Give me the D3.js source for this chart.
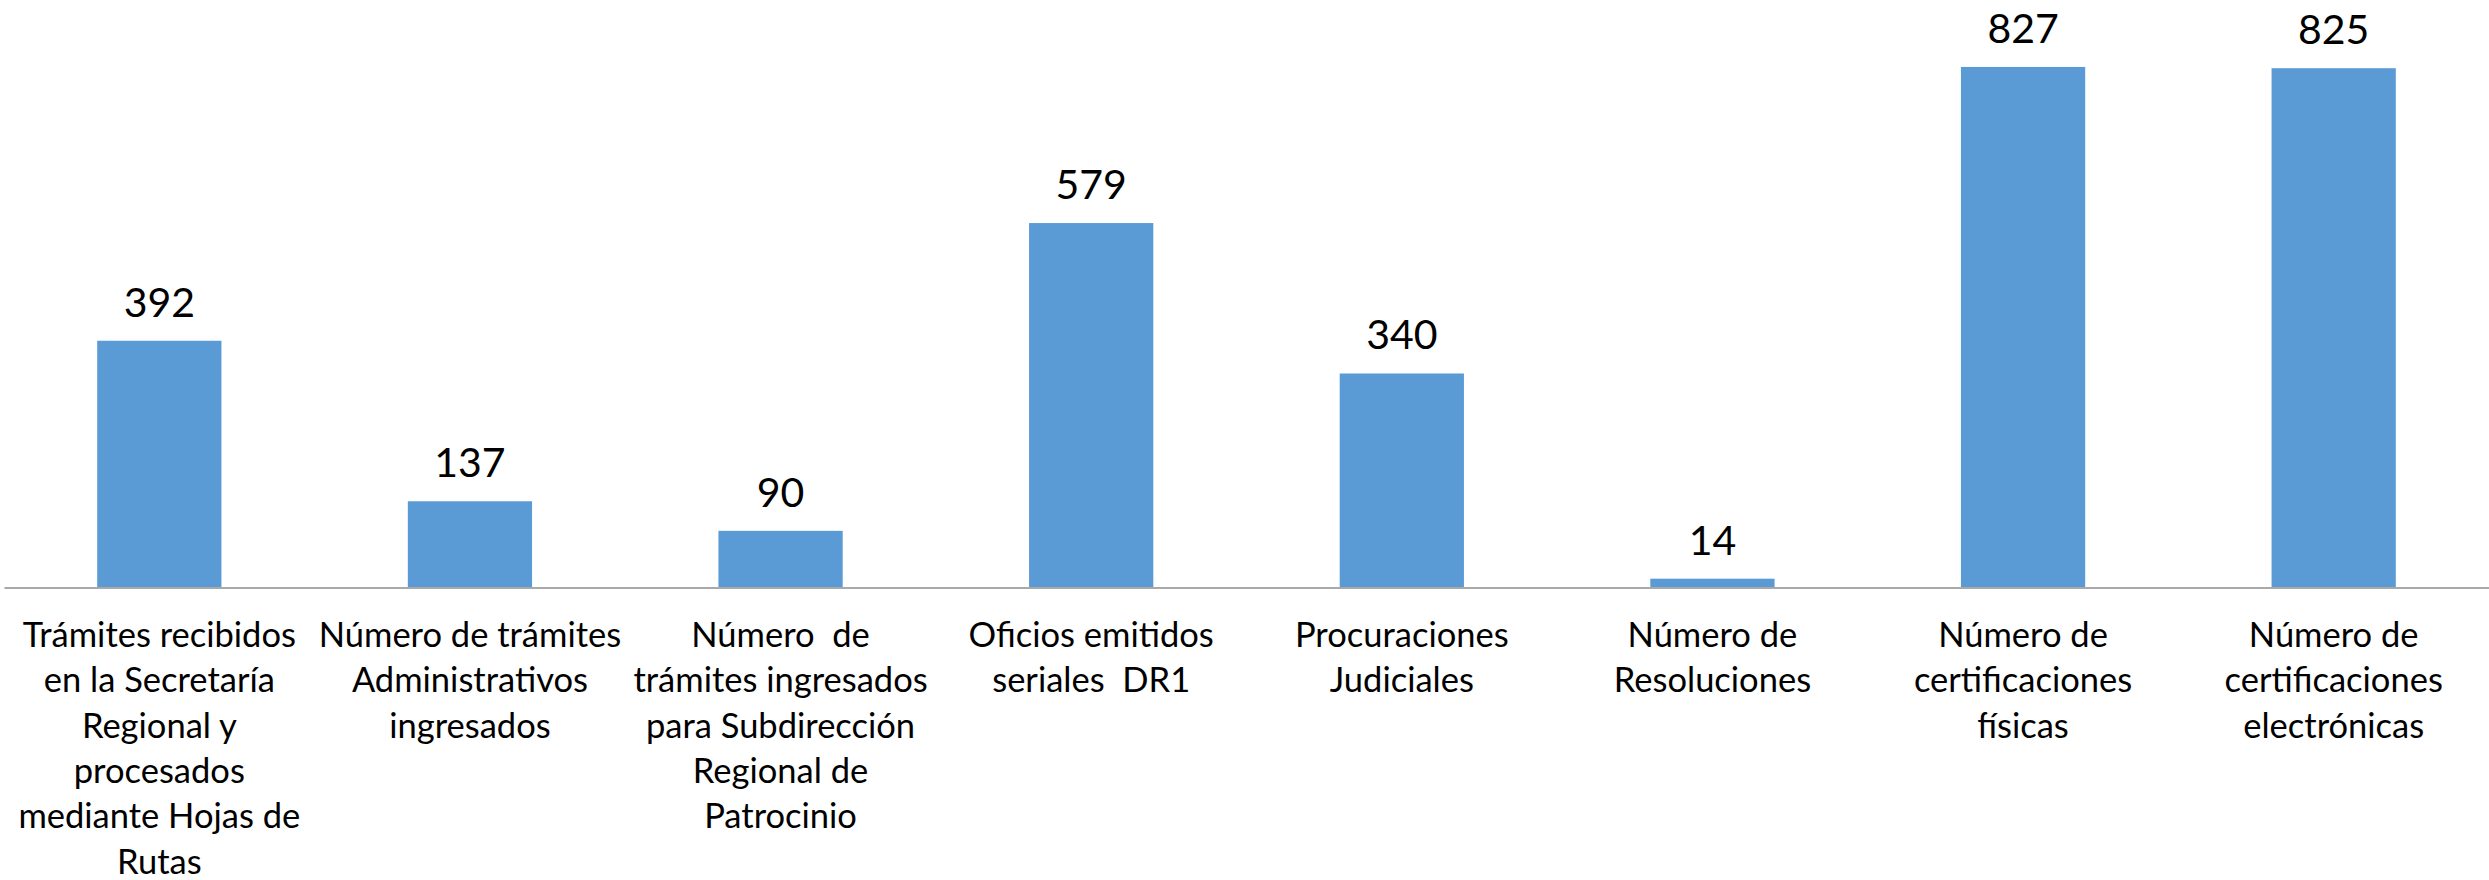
<!DOCTYPE html>
<html>
<head>
<meta charset="utf-8">
<script src="https://cdn.jsdelivr.net/npm/d3@7"></script>
<style>
html,body{margin:0;padding:0;background:#fff;}
svg{display:block;}
</style>
</head>
<body>
<svg id="chart" width="2489" height="880"></svg>
<script>
const categories = [
  ["Trámites recibidos", "en la Secretaría", "Regional y", "procesados", "mediante Hojas de", "Rutas"],
  ["Número de trámites", "Administrativos", "ingresados"],
  ["Número  de", "trámites ingresados", "para Subdirección", "Regional de", "Patrocinio"],
  ["Oficios emitidos", "seriales  DR1"],
  ["Procuraciones", "Judiciales"],
  ["Número de", "Resoluciones"],
  ["Número de", "certificaciones", "físicas"],
  ["Número de", "certificaciones", "electrónicas"]
];
const values = [392, 137, 90, 579, 340, 14, 827, 825];
const yDomain = [0, 900];

const W = 2489, H = 880;
const margin = {left: 4, right: 0};
const baseY = 587.5;
const svg = d3.select("#chart");

const ids = d3.range(categories.length);
const x = d3.scaleBand().domain(ids).range([margin.left, W - margin.right]).paddingInner(0.6).paddingOuter(0.3);
const y = d3.scaleLinear().domain(yDomain).range([baseY, 21]);

// bars
svg.append("g").selectAll("rect").data(values).join("rect")
  .attr("x", (d, i) => x(i))
  .attr("width", x.bandwidth())
  .attr("y", d => y(d))
  .attr("height", d => baseY - y(d))
  .attr("fill", "#5B9BD5");

// axis line
const axis = d3.axisBottom(x).tickSize(0).tickFormat("");
const ax = svg.append("g").attr("transform", `translate(0,${baseY})`).call(axis);
ax.select(".domain").attr("stroke", "#A9A9A9").attr("stroke-width", 2.2);

// value labels
svg.append("g").selectAll("text").data(values).join("text")
  .attr("x", (d, i) => x(i) + x.bandwidth() / 2)
  .attr("y", d => y(d) - 24)
  .attr("text-anchor", "middle")
  .attr("font-family", "Lato, 'Open Sans', sans-serif")
  .attr("font-size", 41)
  .attr("fill", "#000")
  .text(d => d);

// category labels
const labelSize = 34.5;
const lineH = 45.3;
const firstBase = 647;
const lg = svg.append("g");
categories.forEach((lines, i) => {
  const t = lg.append("text")
    .attr("x", x(i) + x.bandwidth() / 2)
    .attr("y", firstBase)
    .attr("text-anchor", "middle")
    .attr("font-family", "Lato, 'Open Sans', sans-serif")
    .attr("font-size", labelSize)
    .attr("fill", "#000")
    .style("white-space", "pre");
  lines.forEach((ln, j) => {
    t.append("tspan")
      .attr("x", x(i) + x.bandwidth() / 2)
      .attr("y", firstBase + j * lineH)
      .text(ln);
  });
});
</script>
</body>
</html>
